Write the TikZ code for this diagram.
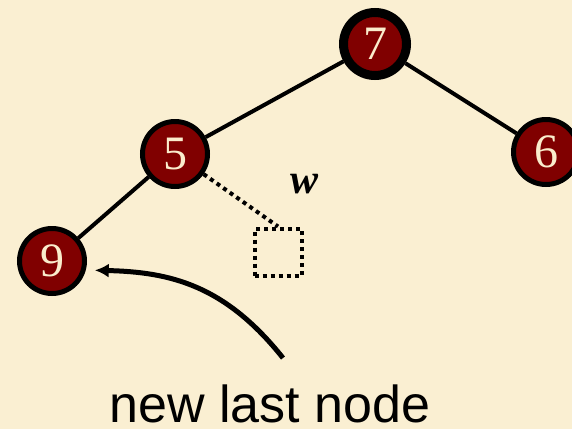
\documentclass[tikz,border=0pt]{standalone}
\usepackage{fontspec}
\setmainfont{Liberation Serif}
\newfontfamily\captionfont{Liberation Sans}
\usetikzlibrary{arrows.meta}
\definecolor{paper}{RGB}{250,239,210}
\definecolor{heapred}{RGB}{128,0,0}
\definecolor{heaptext}{RGB}{250,236,204}
\begin{document}
\begin{tikzpicture}
  [x=1pt,y=-1pt,every node/.style={circle,draw,line width=5pt,fill=heapred,text=heaptext,
   minimum size=65pt,inner sep=0pt,font=\fontsize{48}{48}\selectfont}]
  \tikzstyle{plain} = [draw=none,fill=none,text=black,minimum size=0pt,rectangle]
  \tikzstyle{slot} = [rectangle,fill=none,line width=4pt,dash pattern=on 4pt off 4pt,minimum size=47pt]
  \useasboundingbox (0,0) rectangle (572,429);
  \fill[paper] (0,0) rectangle (572,429);
  \node[line width=9pt,minimum size=63pt] (n7) at (375,44) {7};
  \node (n5) at (175,154) {5};
  \node (n6) at (546,152) {6};
  \node (n9) at (52,261)  {9};
  \node[slot] (w) at (278,252) {};
  \node[plain,font=\fontsize{42}{42}\selectfont\bfseries\itshape] (wlab) at (305,184) {w};
  \foreach \source /\dest in {n7/n5,n7/n6,n5/n9}
   \draw[line width=4pt] (\source) -- (\dest);
  \draw[line width=4pt,dash pattern=on 4pt off 4pt] (n5) -- (w.north);
  \coordinate (tail) at (283,358);
  \draw[line width=5pt,-{Latex[length=14pt,width=14pt]},shorten >=9pt] (tail) .. controls (225,285) and (170,272) .. (n9.-15);
  \node[plain,anchor=base,font=\fontsize{52}{52}\selectfont\captionfont] (caption) at (270,422) {new last node};
\end{tikzpicture}
\end{document}
